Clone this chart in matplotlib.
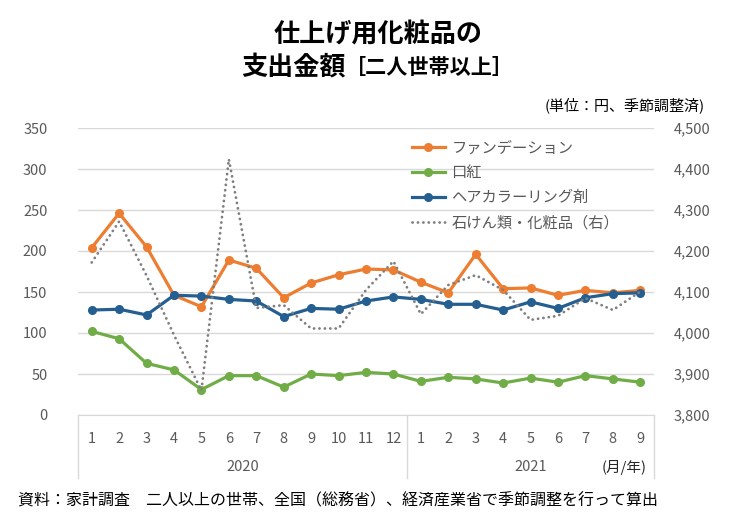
import matplotlib.pyplot as plt
from matplotlib.ticker import FuncFormatter

plt.rcParams['font.family'] = ['Noto Sans CJK JP', 'DejaVu Sans']

# data
months = [1, 2, 3, 4, 5, 6, 7, 8, 9, 10, 11, 12, 1, 2, 3, 4, 5, 6, 7, 8, 9]
years = ['2020', '2021']
year_lengths = [12, 9]
foundation = [204, 246, 205, 146, 132, 189, 179, 143, 161, 171, 178, 177,
              162, 149, 196, 154, 155, 146, 152, 149, 152]
lipstick = [102, 93, 63, 55, 31, 48, 48, 34, 50, 48, 52, 50,
            41, 46, 44, 39, 45, 40, 48, 44, 40]
hair_color = [128, 129, 122, 146, 145, 141, 139, 120, 130, 129, 139, 144,
              141, 135, 135, 128, 138, 130, 143, 148, 149]
soap_cosmetics = [4172, 4272, 4140, 3995, 3860, 4424, 4061, 4068, 4011, 4011, 4105, 4175,
                  4046, 4117, 4141, 4105, 4032, 4042, 4085, 4056, 4101]

labels = ['ファンデーション', '口紅', 'ヘアカラーリング剤', '石けん類・化粧品（右）']
colors = ['#ED7D31', '#70AD47', '#255E91', '#7F7F7F']

text_gray = '#595959'
grid_gray = '#D9D9D9'

x = list(range(1, len(months) + 1))

fig = plt.figure(figsize=(7.56, 5.29), dpi=100)
ax = fig.add_axes([78 / 756, 1 - 415 / 529, 576 / 756, 287 / 529])
ax2 = ax.twinx()

lines = []
for vals, lab, col in zip([foundation, lipstick, hair_color], labels[:3], colors[:3]):
    ln, = ax.plot(x, vals, color=col, lw=2.3, marker='o', markersize=5.5,
                  label=lab, solid_joinstyle='round')
    lines.append(ln)

ln, = ax2.plot(x, soap_cosmetics, color=colors[3], lw=2.0,
               linestyle=(0, (0.05, 1.9)), dash_capstyle='round', label=labels[3])
lines.append(ln)

ax.set_xlim(0.5, len(x) + 0.5)
ax.set_ylim(0, 350)
ax.set_yticks(range(0, 351, 50))
ax2.set_ylim(3800, 4500)
ax2.set_yticks(range(3800, 4501, 100))
ax2.yaxis.set_major_formatter(FuncFormatter(lambda v, p: f'{int(v):,}'))

ax.grid(axis='y', color=grid_gray, lw=1)
ax.set_axisbelow(True)
for a in (ax, ax2):
    for s in a.spines.values():
        s.set_visible(False)
ax.spines['bottom'].set_visible(True)
ax.spines['bottom'].set_color(grid_gray)

ax.set_xticks(x)
ax.set_xticklabels([str(m) for m in months])
ax.tick_params(axis='x', length=0, pad=12, labelsize=10.5, labelcolor=text_gray)
ax.tick_params(axis='y', length=0, pad=22, labelsize=10.5, labelcolor=text_gray)
ax2.tick_params(axis='y', length=0, pad=14, labelsize=10.5, labelcolor=text_gray)

# two-level category axis: separators and year labels
start = 0.5
for yr, n in zip(years, year_lengths):
    ax.axvline(start, ymin=-0.22, ymax=0, color=grid_gray, lw=1, clip_on=False)
    ax.text(start + n / 2, -0.182, yr, transform=ax.get_xaxis_transform(),
            ha='center', va='center', fontsize=10.5, color=text_gray)
    start += n
ax.axvline(start, ymin=-0.22, ymax=0, color=grid_gray, lw=1, clip_on=False)
ax.text(start - 1.1, -0.182, '(月/年)', transform=ax.get_xaxis_transform(),
        ha='center', va='center', fontsize=10.5, color='#262626')

leg = ax2.legend(handles=lines, loc='upper left', bbox_to_anchor=(0.57, 0.982),
                 frameon=False, fontsize=11, handlelength=2.1, handletextpad=0.45,
                 labelspacing=0.52, borderaxespad=0)
for t in leg.get_texts():
    t.set_color(text_gray)

# titles and notes
fig.text(378 / 756, 1 - 34 / 529, '仕上げ用化粧品の', ha='center', va='center',
         fontsize=18.8, fontweight='bold', color='black')
fig.text(346 / 756, 1 - 67 / 529, '支出金額', ha='right', va='center',
         fontsize=18.8, fontweight='bold', color='black')
fig.text(345 / 756, 1 - 67.5 / 529, '［二人世帯以上］', ha='left', va='center',
         fontsize=15.2, fontweight='bold', color='black')
fig.text(705 / 756, 1 - 105 / 529, '(単位：円、季節調整済)', ha='right', va='center',
         fontsize=10.8, color='black')
fig.text(18 / 756, 1 - 501 / 529,
         '資料：家計調査　二人以上の世帯、全国（総務省）、経済産業省で季節調整を行って算出',
         ha='left', va='center', fontsize=11.5, color='black')

fig.savefig('out.png', dpi=100)
